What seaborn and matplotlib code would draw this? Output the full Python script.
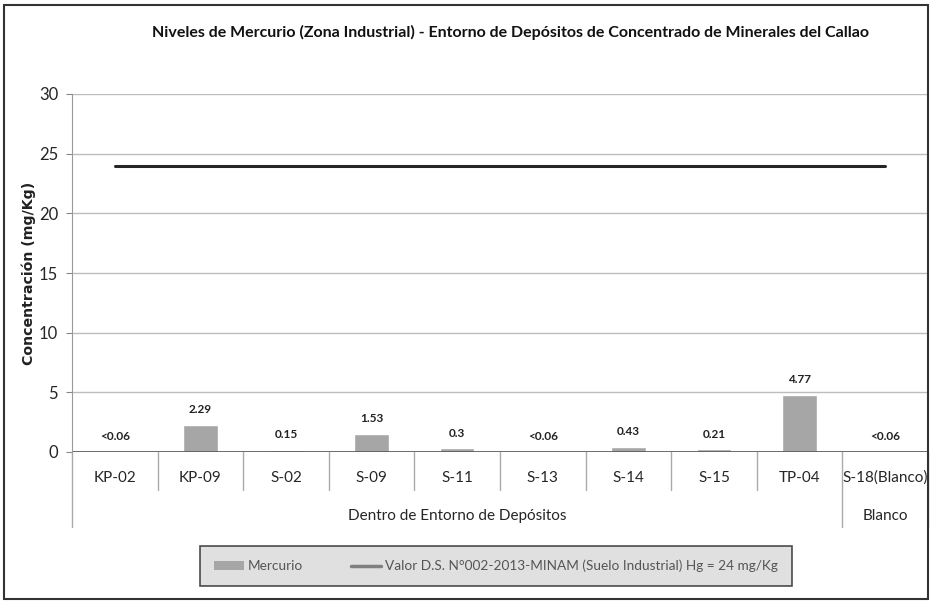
import numpy as np
import seaborn as sns
import matplotlib.pyplot as plt
from matplotlib.patches import Patch, Rectangle
from matplotlib.lines import Line2D
import matplotlib.transforms as mtransforms

# Data
categories = ['KP-02', 'KP-09', 'S-02', 'S-09', 'S-11', 'S-13', 'S-14', 'S-15', 'TP-04', 'S-18(Blanco)']
mercurio = [0.06, 2.29, 0.15, 1.53, 0.3, 0.06, 0.43, 0.21, 4.77, 0.06]
mercurio_labels = ['<0.06', '2.29', '0.15', '1.53', '0.3', '<0.06', '0.43', '0.21', '4.77', '<0.06']
limite = [24] * len(categories)
grupos = ['Dentro de Entorno de Depósitos', 'Blanco']
grupo_tamanos = [9, 1]

sns.set_style('white')
plt.rcParams['font.family'] = ['Lato', 'DejaVu Sans']

fig = plt.figure(figsize=(9.31, 6.03), dpi=100)
ax = fig.add_axes([72 / 931, 1 - 452 / 603, (928 - 72) / 931, (452 - 94) / 603])

sns.barplot(x=categories, y=mercurio, color='#a6a6a6', width=0.4, saturation=1, ax=ax)
x = np.arange(len(categories))
ax.plot(x, limite, color='#262626', lw=2.2)

for xi, v, lab in zip(x, mercurio, mercurio_labels):
    ax.annotate(lab, (xi, v), xytext=(0, 7), textcoords='offset points',
                ha='center', va='bottom', fontsize=8.5, fontweight='bold', color='#222222')

ax.set_ylim(0, 30)
ax.set_xlim(-0.5, len(categories) - 0.5)
ax.set_yticks(range(0, 31, 5))
ax.yaxis.grid(True, color='#bdbdbd', lw=1)
ax.set_axisbelow(True)
for s in ['top', 'right', 'bottom']:
    ax.spines[s].set_visible(False)
ax.spines['left'].set_color('#999999')
ax.spines['left'].set_linestyle((0, (1, 1)))
ax.axhline(0, color='#555555', lw=1.2)
ax.tick_params(axis='y', left=True, length=4, color='#888888', labelsize=12, pad=6)
ax.tick_params(axis='x', bottom=False, labelbottom=False)
ax.set_xlabel('')
ax.set_ylabel('Concentración (mg/Kg)', family='DejaVu Sans', fontweight='bold',
              fontsize=10.2, labelpad=2, color='#222222')

# category labels and separators below the axis
trans = mtransforms.blended_transform_factory(ax.transData, fig.transFigure)
for xi, cat in zip(x, categories):
    ax.text(xi, 1 - 478 / 603, cat, transform=trans, ha='center', va='center', fontsize=11)

limites_grupo = np.cumsum([0] + grupo_tamanos) - 0.5
for b in np.arange(-0.5, len(categories)):
    bottom = 527 if b in limites_grupo else 490
    ax.plot([b, b], [1 - 452 / 603, 1 - bottom / 603], transform=trans,
            color='#aaaaaa', lw=1, clip_on=False)

for g, lo, hi in zip(grupos, limites_grupo[:-1], limites_grupo[1:]):
    ax.text((lo + hi) / 2, 1 - 516 / 603, g, transform=trans, ha='center', va='center', fontsize=11)

fig.text(0.548, 1 - 32 / 603,
         'Niveles de Mercurio (Zona Industrial) - Entorno de Depósitos de Concentrado de Minerales del Callao',
         ha='center', va='center', fontsize=11.5, fontweight='bold', color='#111111')

handles = [Patch(facecolor='#a6a6a6', edgecolor='none'),
           Line2D([0], [0], color='#808080', lw=2.5)]
leg = fig.legend(handles, ['Mercurio', 'Valor D.S. N°002-2013-MINAM (Suelo Industrial) Hg = 24 mg/Kg'],
                 loc='center', bbox_to_anchor=(496 / 931, 1 - 566 / 603), ncol=2,
                 frameon=True, fancybox=False, facecolor='#d9d9d9', edgecolor='#222222',
                 fontsize=9.8, columnspacing=3.5, handlelength=2.2, borderpad=1.0,
                 handletextpad=0.3, labelcolor='#555555')
leg.get_frame().set_linewidth(1.2)

fig.add_artist(Rectangle((4 / 931, 4 / 603), 924 / 931, 594 / 603, transform=fig.transFigure,
                         fill=False, edgecolor='#333333', lw=1.5))

fig.savefig('out.png', dpi=100)
